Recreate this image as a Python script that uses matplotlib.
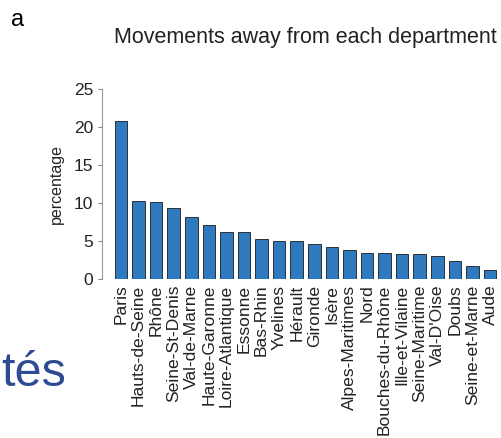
import matplotlib
matplotlib.use('Agg')
import matplotlib.pyplot as plt

# départements et part des mouvements sortants (%)
departements = ['Paris', 'Hauts-de-Seine', 'Rhône', 'Seine-St-Denis', 'Val-de-Marne',
                'Haute-Garonne', 'Loire-Atlantique', 'Essonne', 'Bas-Rhin', 'Yvelines',
                'Hérault', 'Gironde', 'Isère', 'Alpes-Maritimes', 'Nord',
                'Bouches-du-Rhône', 'Ille-et-Vilaine', 'Seine-Maritime', "Val-D'Oise",
                'Doubs', 'Seine-et-Marne', 'Aude']
pourcentages = [20.8, 10.2, 10.15, 9.3, 8.2, 7.16, 6.24, 6.14, 5.3, 5.05, 4.96,
                4.66, 4.26, 3.82, 3.47, 3.47, 3.34, 3.3, 3.08, 2.42, 1.76, 1.14]
yticks = [0, 5, 10, 15, 20, 25]

plt.rcParams['font.family'] = ['Liberation Sans', 'DejaVu Sans']

fig = plt.figure(figsize=(5.02, 4.38), dpi=100)
ax = fig.add_axes([0.2026, 0.363, 0.812, 0.4338])

x = range(len(departements))
ax.bar(x, pourcentages, width=0.72, color='#2f7abf', edgecolor='#1c1c1c', linewidth=0.6)

ax.set_xlim(-1.1, len(departements) - 1 + 1.1)
ax.set_ylim(0, 25)
ax.set_yticks(yticks)
ax.set_yticklabels([str(t) for t in yticks], fontsize=12.5, color='#222222')
ax.set_xticks(list(x))
ax.set_xticklabels(departements, rotation=90, fontsize=12.6, color='#222222')
ax.tick_params(axis='x', length=0, pad=4)
ax.tick_params(axis='y', direction='out', length=3, width=0.8, color='#888888', pad=3)

for s in ['top', 'right', 'bottom']:
    ax.spines[s].set_visible(False)
ax.spines['left'].set_color('#999999')
ax.spines['left'].set_linewidth(0.8)

ax.set_ylabel('percentage', fontsize=11.5, color='#222222', labelpad=7)

fig.text(0.608, 0.915, 'Movements away from each department', ha='center', va='center',
         fontsize=15.5, color='#222222')
fig.text(0.022, 0.955, 'a', ha='left', va='center', fontsize=17, color='black')
fig.text(0.002, 0.119, 'tés', ha='left', va='baseline', fontsize=35, color='#2d4b93')

fig.savefig('out.png', dpi=100)
